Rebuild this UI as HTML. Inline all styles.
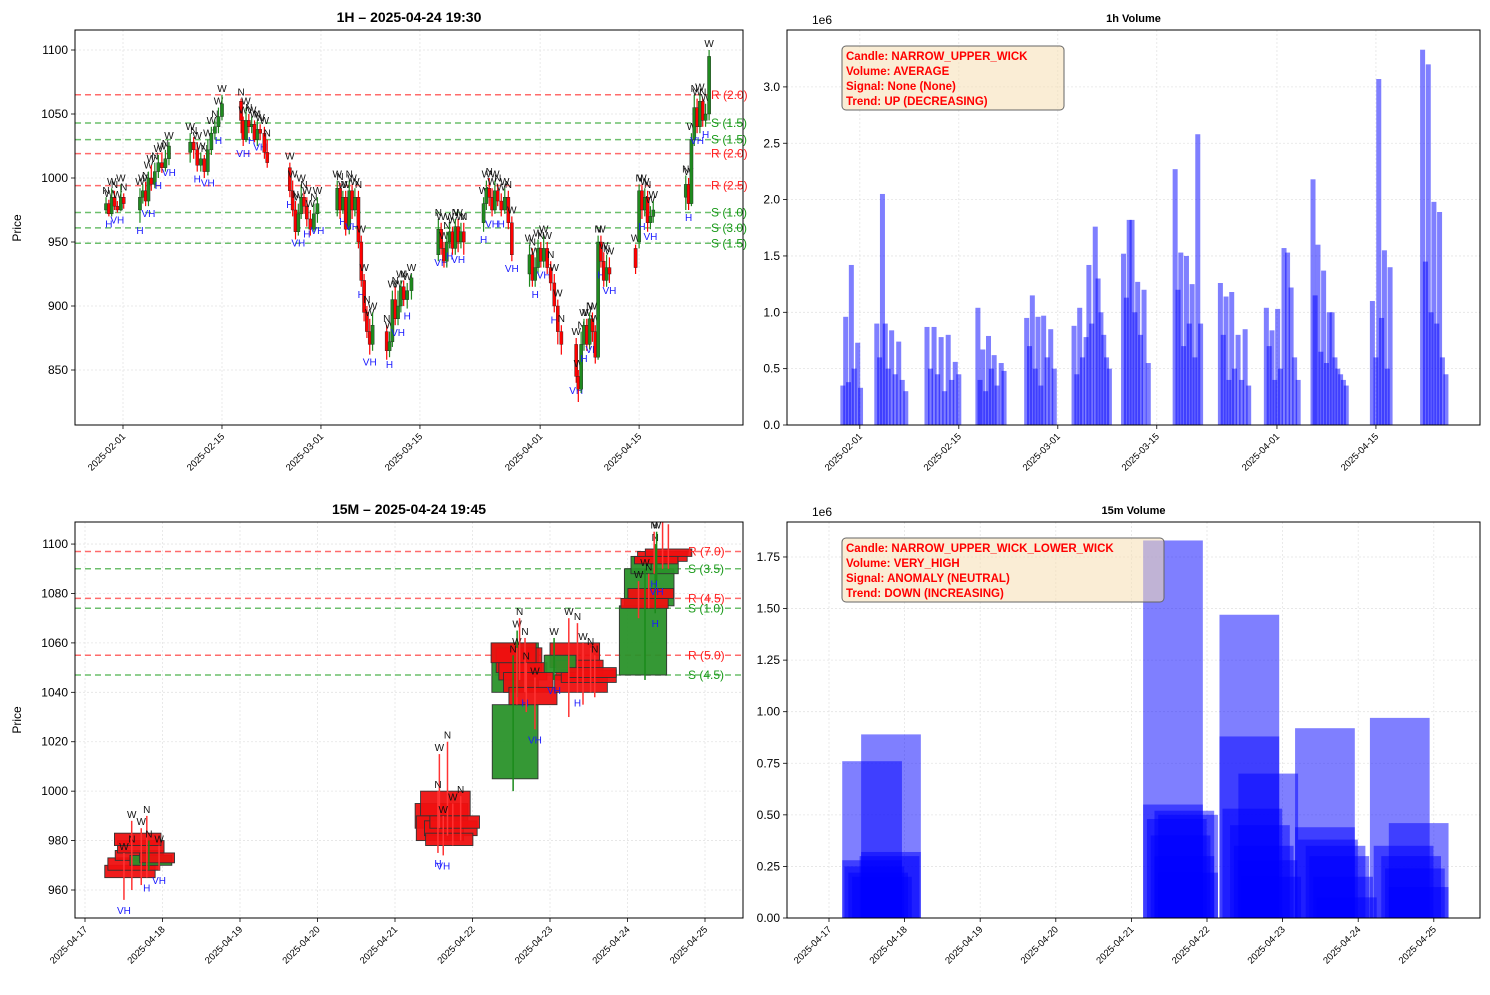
<!DOCTYPE html>
<html><head><meta charset="utf-8"><style>
body{margin:0;background:#fff;font-family:"Liberation Sans",sans-serif}
svg text{font-family:"Liberation Sans",sans-serif}
</style></head><body>
<svg id="c" width="1490" height="990" xmlns="http://www.w3.org/2000/svg"></svg>
<script>
// ---------- DATA ----------
// hourly candles: [dayOffsetFrom 2025-02-01, open, close, high, low]
const hourlyCandles = [
[-2.4,975,980,985,972],[-2.0,980,972,983,970],[-1.6,972,985,992,970],[-1.2,985,978,990,975],[-0.8,978,975,982,973],[-0.3,975,985,995,974],[0.1,985,980,988,976],
[2.4,975,985,992,965],[2.8,985,990,995,980],[3.2,990,982,997,978],[3.6,982,1000,1005,978],[4.0,1000,995,1010,990],[4.5,995,1005,1012,992],[5.0,1005,1012,1018,1000],[5.5,1012,1008,1020,1004],[6.0,1008,1015,1022,1005],[6.5,1015,1025,1028,1010],
[9.5,1020,1028,1035,1012],[10.0,1028,1022,1032,1015],[10.5,1022,1010,1028,1005],[11.0,1010,1015,1020,1005],[11.5,1015,1005,1018,1000],[12.0,1005,1022,1030,1002],[12.5,1022,1035,1040,1018],[13.0,1035,1040,1045,1030],[13.5,1040,1048,1055,1035],[14.0,1048,1058,1065,1045],
[16.7,1060,1045,1062,1035],[17.0,1045,1030,1048,1025],[17.4,1030,1045,1055,1028],[17.8,1045,1040,1050,1035],[18.2,1040,1042,1048,1035],[18.6,1042,1030,1045,1028],[19.0,1030,1038,1045,1025],[19.4,1038,1035,1042,1030],[20.0,1035,1020,1040,1015],[20.4,1020,1012,1030,1008],
[23.6,1008,990,1012,985],[24.0,990,975,998,970],[24.4,975,958,982,952],[24.8,958,972,980,955],[25.2,972,985,995,968],[25.6,985,978,990,972],[26.0,978,968,985,962],[26.5,968,960,975,955],[27.0,960,972,980,958],[27.5,972,980,985,965],
[30.3,975,992,998,970],[30.7,992,975,996,968],[31.1,975,985,990,972],[31.5,985,960,990,955],[32.0,960,990,998,956],[32.4,990,975,995,968],[32.8,975,985,992,970],[33.3,985,950,990,945],[33.7,950,920,955,915],[34.1,920,895,925,888],[34.5,895,880,900,875],[34.9,880,870,890,862],[35.3,870,885,895,865],
[37.3,880,865,885,858],[37.7,865,872,880,860],[38.1,872,905,912,868],[38.5,905,890,915,885],[38.9,890,900,912,885],[39.3,900,915,920,895],[39.7,915,905,920,900],[40.2,905,912,918,898],[40.8,912,922,925,905],
[44.6,940,960,968,935],[45.0,960,945,965,940],[45.4,945,935,950,930],[45.8,935,950,958,930],[46.2,950,958,965,945],[46.6,958,945,962,940],[47.0,945,962,968,940],[47.4,962,950,968,942],[47.8,950,958,965,945],[48.2,958,950,965,940],
[51.0,965,980,985,958],[51.4,980,992,998,975],[51.8,992,985,1000,978],[52.2,985,975,992,970],[52.6,975,990,998,972],[53.0,990,982,995,978],[53.5,982,975,988,970],[54.0,975,985,992,972],[54.5,985,965,990,960],[55.0,965,940,970,935],
[57.5,925,940,948,915],[57.9,940,920,945,915],[58.3,920,930,938,915],[58.7,930,945,952,925],[59.1,945,935,950,930],[59.5,935,945,955,930],[60.0,945,930,950,925],[60.5,930,918,935,912],[61.0,918,900,925,895],[61.5,900,880,905,870],[62.0,880,870,885,862],
[64.1,870,845,875,840],[64.4,845,835,850,825],[64.8,835,870,880,832],[65.2,870,885,890,865],[65.6,885,870,890,865],[66.0,870,890,895,866],[66.4,890,880,895,872],[66.8,880,860,885,855],[67.2,860,950,955,858],[67.6,950,935,955,930],[68.0,935,920,942,915],[68.4,920,930,940,915],[68.8,930,925,938,918],
[72.5,945,930,948,925],[73.0,950,990,995,945],[73.4,990,975,995,968],[73.8,975,985,992,970],[74.2,985,965,990,958],[74.6,965,970,978,960],[75.0,970,975,982,965],
[79.6,985,995,1002,975],[80.0,995,980,1000,975],[80.4,980,1030,1035,978],[80.8,1030,1055,1065,1025],[81.2,1055,1040,1062,1035],[81.6,1040,1060,1066,1035],[82.0,1060,1045,1062,1040],[82.4,1045,1050,1058,1040],[82.9,1050,1095,1100,1045]
];
// hourly volume (millions), one per candle
const hourlyVolume = [
0.35,0.96,0.38,1.42,0.5,0.73,0.33,
0.9,0.6,2.05,0.9,0.5,0.84,0.45,0.74,0.4,0.3,
0.87,0.5,0.87,0.45,0.78,0.3,0.8,0.4,0.56,0.45,
1.04,0.4,0.67,0.3,0.79,0.5,0.62,0.35,0.55,0.48,
0.95,0.7,1.15,0.5,0.96,0.35,0.97,0.6,0.85,0.5,
0.88,0.45,1.04,0.6,0.78,1.42,0.9,1.76,1.3,1.0,0.8,0.6,0.5,
1.52,1.13,1.82,1.82,1.0,1.27,0.8,1.2,0.55,
2.27,1.2,1.53,0.7,1.5,0.9,1.25,0.6,2.58,0.9,
1.26,0.8,1.14,0.4,1.18,0.5,0.8,0.4,0.85,0.35,
1.04,0.7,0.84,0.4,1.03,0.5,1.57,1.53,1.22,0.6,0.4,
2.18,1.15,1.6,0.65,1.37,0.55,1.0,1.0,0.6,0.5,0.45,0.4,0.35,
1.1,0.6,3.07,0.95,1.55,0.5,1.4,
3.33,1.45,3.2,1.0,1.98,0.9,1.89,0.6,0.45
];
// hourly S/R levels
const hourlyLevelPrices = [1065,1043,1030,1019,994,973,961,949];
const hourlyLevelLabels = ["R (2.0)","S (1.5)","S (1.5)","R (2.0)","R (2.5)","S (1.0)","S (3.0)","S (1.5)"];
const hourlyPriceTicks = [850,900,950,1000,1050,1100];
const hourlyDateTicks = [0,14,28,42,59,73];
const hourlyDateLabels = ["2025-02-01","2025-02-15","2025-03-01","2025-03-15","2025-04-01","2025-04-15"];
const hourlyVolTicks = [0,0.5,1.0,1.5,2.0,2.5,3.0];
const hourlyVolTickLabels = ["0.0","0.5","1.0","1.5","2.0","2.5","3.0"];

// 15m candles: [dayOffsetFrom 2025-04-17, open, close, high, low, spanDays]
const m15Candles = [
[0.58,970,965,975,956,0.65],[0.63,973,968,978,960,0.67],[0.70,976,972,985,962,0.62],[0.72,980,975,990,965,0.60],[0.68,983,978,988,970,0.60],[0.85,970,974,980,968,0.54],[0.93,975,971,978,968,0.45],
[4.60,995,985,1020,982,0.68],[4.65,1000,990,1015,985,0.64],[4.58,990,980,1000,975,0.61],[4.72,988,982,995,978,0.68],[4.77,990,985,998,980,0.64],[4.70,983,978,990,974,0.61],
[5.55,1005,1035,1055,1000,0.59],[5.55,1040,1060,1065,1038,0.60],[5.60,1058,1048,1062,1040,0.59],[5.65,1052,1045,1058,1035,0.62],[5.72,1048,1040,1052,1032,0.64],[5.78,1042,1035,1046,1025,0.62],[5.53,1060,1052,1070,1045,0.58],
[6.32,1060,1050,1070,1030,0.64],[6.38,1053,1045,1068,1040,0.61],[6.40,1047,1040,1060,1035,0.68],[6.50,1049,1044,1055,1038,0.71],[6.13,1048,1055,1062,1045,0.41],[6.55,1050,1046,1058,1040,0.61],
[7.20,1047,1075,1090,1045,0.61],[7.28,1075,1090,1100,1072,0.64],[7.22,1078,1074,1085,1070,0.61],[7.30,1082,1078,1088,1074,0.59],[7.35,1088,1095,1105,1085,0.61],[7.45,1097,1093,1108,1090,0.64],[7.53,1098,1095,1110,1090,0.60],[7.37,1095,1092,1105,1088,0.56]
];
const m15LevelPrices = [1097,1090,1078,1074,1055,1047];
const m15LevelLabels = ["R (7.0)","S (3.5)","R (4.5)","S (1.0)","R (5.0)","S (4.5)"];
const m15PriceTicks = [960,980,1000,1020,1040,1060,1080,1100];
const m15DateTicks = [0,1,2,3,4,5,6,7,8];
const m15DateLabels = ["2025-04-17","2025-04-18","2025-04-19","2025-04-20","2025-04-21","2025-04-22","2025-04-23","2025-04-24","2025-04-25"];
// 15m volume bars: center day, volume (millions)
const m15VolDays = [0.57,0.82,0.57,0.6,0.65,0.7,0.8,0.82, 4.55,4.55,4.7,4.75,4.6,4.65,4.7,4.75, 5.56,5.56,5.6,5.81,5.7,5.75,5.8,5.85, 6.56,6.56,6.6,6.7,6.75,6.8,6.85, 7.55,7.8,7.6,7.7,7.75,7.8];
const m15VolValues = [0.76,0.89,0.28,0.25,0.22,0.20,0.30,0.32, 1.83,0.55,0.52,0.50,0.48,0.40,0.30,0.22, 1.47,0.88,0.53,0.70,0.45,0.35,0.28,0.20, 0.92,0.44,0.38,0.35,0.30,0.20,0.10, 0.97,0.46,0.35,0.30,0.24,0.15];
const m15VolTicks = [0,0.25,0.5,0.75,1.0,1.25,1.5,1.75];
const m15VolTickLabels = ["0.00","0.25","0.50","0.75","1.00","1.25","1.50","1.75"];

// ---------- HELPERS ----------
const svg = document.getElementById('c');
const NS = 'http://www.w3.org/2000/svg';
function mk(tag, attrs, parent, text){
  const e = document.createElementNS(NS, tag);
  for (const k in attrs) e.setAttribute(k, attrs[k]);
  if (text !== undefined) e.textContent = text;
  (parent || svg).appendChild(e);
  return e;
}
const A1 = {l:75,r:743,t:30,b:425, x:d=>123+d*7.07, y:p=>178-(p-1000)*1.28};
const A2 = {l:787,r:1480,t:30,b:425, x:d=>857+(d+0.4)*7.07, y:v=>425-v*112.7};
const A3 = {l:75,r:743,t:522,b:918, x:d=>85+d*77.5, y:p=>890-(p-960)*2.471};
const A4 = {l:787,r:1480,t:522,b:918, x:d=>829+d*75.6, y:v=>918-v*206.3};

function frame(A, name, xt, xl, yt, yl, title, tsize){
  const g = mk('g', {});
  
  
  xt.forEach(d=>{ mk('line',{x1:A.x(d),x2:A.x(d),y1:A.t,y2:A.b,stroke:'#e4e4e4','stroke-width':0.8,'stroke-dasharray':'2,2'},g); });
  yt.forEach(v=>{ mk('line',{x1:A.l,x2:A.r,y1:A.y(v),y2:A.y(v),stroke:'#e4e4e4','stroke-width':0.8,'stroke-dasharray':'2,2'},g); });
  xt.forEach((d,i)=>{
    const x=A.x(d);
    mk('line',{x1:x,x2:x,y1:A.b,y2:A.b+4,stroke:'#000','stroke-width':0.8},g);
    const t = mk('text',{x:x+3,y:A.b+12,'font-size':9.5,'text-anchor':'end',transform:`rotate(-45 ${x+3} ${A.b+12})`},g,xl[i]);
    
    
  });
  yt.forEach((v,i)=>{
    const y=A.y(v);
    mk('line',{x1:A.l-4,x2:A.l,y1:y,y2:y,stroke:'#000','stroke-width':0.8},g);
    const t = mk('text',{x:A.l-7,y:y+4,'font-size':12,'text-anchor':'end'},g,yl[i]);
    
    
  });
  const tt = mk('text',{x:(A.l+A.r)/2,y:A.t-8,'font-size':tsize,'font-weight':'bold','text-anchor':'middle'},g,title);
  
  
  return g;
}
function border(A){
  const b = mk('rect',{x:A.l,y:A.t,width:A.r-A.l,height:A.b-A.t,fill:'none',stroke:'#000','stroke-width':1});
  
  
}
function clip(A,id){
  const d = mk('clipPath',{id:id});
  mk('rect',{x:A.l,y:A.t,width:A.r-A.l,height:A.b-A.t},d);
}
clip(A1,'k1');clip(A2,'k2');clip(A3,'k3');clip(A4,'k4');

// ---------- PANEL 1 : hourly price ----------
frame(A1,'hourly-price-axes',hourlyDateTicks,hourlyDateLabels,hourlyPriceTicks,hourlyPriceTicks.map(String),'1H – 2025-04-24 19:30',14);
const p1 = mk('g',{'clip-path':'url(#k1)'});


hourlyLevelPrices.forEach((p,i)=>{
  const col = hourlyLevelLabels[i][0]==='R' ? '#ff6b6b' : '#6cbf6c';
  const ln = mk('line',{x1:A1.l,x2:A1.r,y1:A1.y(p),y2:A1.y(p),stroke:col,'stroke-width':1.5,'stroke-dasharray':'6,4'},p1);
  
  
});
hourlyCandles.forEach((c,i)=>{
  const [d,o,cl,h,l]=c, x=A1.x(d), up=cl>=o, col=up?'#1f8a1f':'#f00';
  mk('line',{x1:x,x2:x,y1:A1.y(h),y2:A1.y(l),stroke:col,'stroke-width':1.2},p1);
  const r = mk('rect',{x:x-1.6,y:A1.y(Math.max(o,cl)),width:3.2,height:Math.max(1,Math.abs(A1.y(o)-A1.y(cl))),fill:col,stroke:'#222','stroke-width':0.4},p1);
  
  
  mk('text',{x:x,y:A1.y(h)-3,'font-size':10,'text-anchor':'middle',fill:'#111'},p1,i%3===0?'N':'W');
  if(i%3===1){ mk('text',{x:x,y:A1.y(l)+11,'font-size':10,'text-anchor':'middle',fill:'#1a1aff'},p1,i%2?'H':'VH'); }
});
hourlyLevelPrices.forEach((p,i)=>{
  const col = hourlyLevelLabels[i][0]==='R' ? '#ff2020' : '#1a9a1a';
  const t = mk('text',{x:711,y:A1.y(p)+4,'font-size':12,fill:col},svg,hourlyLevelLabels[i]);
  
  
});
border(A1);
const yl1 = mk('text',{x:21,y:228,'font-size':12,'text-anchor':'middle',transform:'rotate(-90 21 228)'},svg,'Price');



// ---------- PANEL 2 : hourly volume ----------
frame(A2,'hourly-volume-axes',hourlyDateTicks,hourlyDateLabels,hourlyVolTicks,hourlyVolTickLabels,'1h Volume',11);
mk('text',{x:812,y:24,'font-size':12},svg,'1e6');
const p2 = mk('g',{'clip-path':'url(#k2)'});


hourlyVolume.forEach((v,i)=>{
  const x=A2.x(hourlyCandles[i][0]);
  const b = mk('rect',{x:x-2.5,y:A2.y(v),width:5,height:A2.b-A2.y(v),fill:'#0000ff','fill-opacity':0.5},p2);
  
  
});
border(A2);
function infoBox(x,y,w,lines,name){
  const g = mk('g',{});
  
  
  mk('rect',{x:x,y:y,width:w,height:64,rx:4,fill:'#f5deb3','fill-opacity':0.55,stroke:'#666','stroke-width':1},g);
  lines.forEach((s,i)=>mk('text',{x:x+4,y:y+14+i*15,'font-size':11.5,'font-weight':'bold',fill:'#f00'},g,s));
}
infoBox(842,46,222,['Candle: NARROW_UPPER_WICK','Volume: AVERAGE','Signal: None (None)','Trend: UP (DECREASING)'],'hourly-info-box');

// ---------- PANEL 3 : 15m price ----------
frame(A3,'m15-price-axes',m15DateTicks,m15DateLabels,m15PriceTicks,m15PriceTicks.map(String),'15M – 2025-04-24 19:45',14);
const p3 = mk('g',{'clip-path':'url(#k3)'});


m15LevelPrices.forEach((p,i)=>{
  const col = m15LevelLabels[i][0]==='R' ? '#ff6b6b' : '#6cbf6c';
  const ln = mk('line',{x1:A3.l,x2:A3.r,y1:A3.y(p),y2:A3.y(p),stroke:col,'stroke-width':1.5,'stroke-dasharray':'6,4'},p3);
  
  
});
m15Candles.forEach((c,i)=>{
  const [d,o,cl,h,l,s]=c, x=A3.x(d), w=s*77.5, up=cl>=o, col=up?'#2a922a':'#ee1010';
  const r = mk('rect',{x:x-w/2,y:A3.y(Math.max(o,cl)),width:w,height:Math.max(2,Math.abs(A3.y(o)-A3.y(cl))),fill:col,'fill-opacity':0.95,stroke:'#333','stroke-width':0.9},p3);
  
  
});
m15Candles.forEach((c,i)=>{
  const [d,o,cl,h,l]=c, x=A3.x(d)+(i%4-1.5)*4, up=cl>=o;
  mk('line',{x1:x,x2:x,y1:A3.y(h),y2:A3.y(l),stroke:up?'#1a8a1a':'#f33','stroke-width':1.5},p3);
  mk('text',{x:x,y:A3.y(h)-3,'font-size':10,'text-anchor':'middle',fill:'#111'},p3,i%2?'N':'W');
  if(i%3===0){ mk('text',{x:x,y:A3.y(l)+14,'font-size':10,'text-anchor':'middle',fill:'#1a1aff'},p3,i%2?'H':'VH'); }
});
m15LevelPrices.forEach((p,i)=>{
  const col = m15LevelLabels[i][0]==='R' ? '#ff2020' : '#1a9a1a';
  const t = mk('text',{x:688,y:A3.y(p)+4,'font-size':12,fill:col},svg,m15LevelLabels[i]);
  
  
});
border(A3);
const yl3 = mk('text',{x:21,y:720,'font-size':12,'text-anchor':'middle',transform:'rotate(-90 21 720)'},svg,'Price');



// ---------- PANEL 4 : 15m volume ----------
frame(A4,'m15-volume-axes',m15DateTicks,m15DateLabels,m15VolTicks,m15VolTickLabels,'15m Volume',11);
mk('text',{x:812,y:516,'font-size':12},svg,'1e6');
const p4 = mk('g',{'clip-path':'url(#k4)'});


m15VolValues.forEach((v,i)=>{
  const x=A4.x(m15VolDays[i]), w=0.79*75.6;
  const b = mk('rect',{x:x-w/2,y:A4.y(v),width:w,height:A4.b-A4.y(v),fill:'#0000ff','fill-opacity':0.5},p4);
  
  
});
border(A4);
infoBox(842,538,322,['Candle: NARROW_UPPER_WICK_LOWER_WICK','Volume: VERY_HIGH','Signal: ANOMALY (NEUTRAL)','Trend: DOWN (INCREASING)'],'m15-info-box');
</script>
</body></html>
